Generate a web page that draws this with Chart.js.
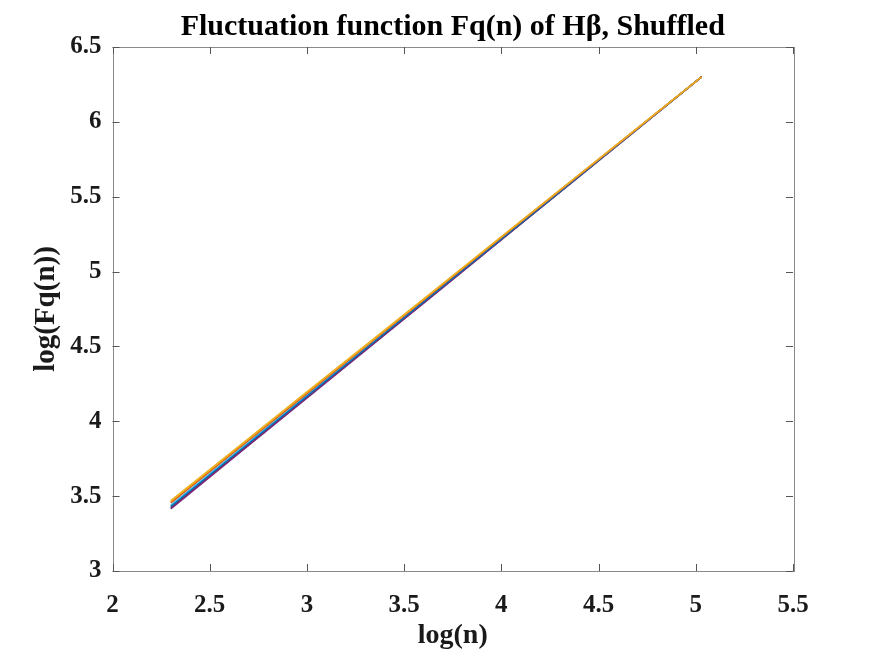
<!DOCTYPE html>
<html>
<head>
<meta charset="utf-8">
<script src="https://cdn.jsdelivr.net/npm/chart.js@4.4.1/dist/chart.umd.min.js"></script>
<style>
  html, body { margin: 0; padding: 0; background: #fff; }
  #wrap { width: 875px; height: 657px; }
</style>
</head>
<body>
<div id="wrap"><canvas id="fqChart" width="875" height="657"></canvas></div>
<script>
// log(n) scale points
var logN = [2.30, 2.64, 2.99, 3.33, 3.68, 4.02, 4.37, 4.71, 5.03];

// log(Fq(n)) per q
var fq1  = [3.420, 3.779, 4.148, 4.506, 4.876, 5.235, 5.604, 5.963, 6.301];
var fq2  = [3.460, 3.814, 4.178, 4.531, 4.895, 5.250, 5.614, 5.968, 6.301];
var fq3  = [3.470, 3.823, 4.186, 4.538, 4.900, 5.253, 5.616, 5.969, 6.301];
var fq4  = [3.415, 3.775, 4.145, 4.503, 4.873, 5.233, 5.603, 5.962, 6.300];
var fq5  = [3.435, 3.792, 4.160, 4.516, 4.883, 5.240, 5.608, 5.965, 6.301];
var fq6  = [3.440, 3.797, 4.163, 4.519, 4.886, 5.242, 5.609, 5.965, 6.301];
var fq7  = [3.425, 3.783, 4.152, 4.510, 4.878, 5.237, 5.605, 5.964, 6.300];
var fq8  = [3.430, 3.788, 4.156, 4.513, 4.881, 5.238, 5.606, 5.964, 6.301];
var fq9  = [3.455, 3.810, 4.174, 4.528, 4.893, 5.248, 5.612, 5.967, 6.301];
var fq10 = [3.465, 3.819, 4.182, 4.534, 4.898, 5.251, 5.615, 5.968, 6.301];

var xTicks = [2, 2.5, 3, 3.5, 4, 4.5, 5, 5.5];
var yTicks = [3, 3.5, 4, 4.5, 5, 5.5, 6, 6.5];

// matlab default colour order
var colores = ['#0072BD', '#D95319', '#EDB120', '#7E2F8E', '#77AC30', '#4DBEEE', '#A2142F'];

var series = [fq1, fq2, fq3, fq4, fq5, fq6, fq7, fq8, fq9, fq10];
var datasets = series.map(function (vals, i) {
    return {
        data: vals.map(function (v, j) { return { x: logN[j], y: v }; }),
        borderColor: colores[i % colores.length],
        borderWidth: 1.5,
        pointRadius: 0,
        fill: false,
        tension: 0,
        order: series.length - i // la ultima serie queda encima, como en matlab
    };
});

var serif = '"Liberation Serif", "Times New Roman", serif';

// caja estilo matlab con ticks hacia adentro
var boxPlugin = {
    id: 'boxPlugin',
    afterDatasetsDraw: function (chart) {
        var ctx = chart.ctx, a = chart.chartArea;
        var xs = chart.scales.x, ys = chart.scales.y;
        ctx.save();
        ctx.strokeStyle = '#8a8a8a';
        ctx.lineWidth = 1;
        ctx.strokeRect(Math.round(a.left) + 0.5, Math.round(a.top) + 0.5,
            Math.round(a.right - a.left), Math.round(a.bottom - a.top));
        ctx.strokeStyle = '#555';
        ctx.beginPath();
        xTicks.forEach(function (t) {
            var px = Math.round(xs.getPixelForValue(t)) + 0.5;
            ctx.moveTo(px, a.bottom); ctx.lineTo(px, a.bottom - 7);
            ctx.moveTo(px, a.top); ctx.lineTo(px, a.top + 7);
        });
        yTicks.forEach(function (t) {
            var py = Math.round(ys.getPixelForValue(t)) + 0.5;
            ctx.moveTo(a.left, py); ctx.lineTo(a.left + 7, py);
            ctx.moveTo(a.right, py); ctx.lineTo(a.right - 7, py);
        });
        ctx.stroke();
        ctx.restore();
    }
};

new Chart(document.getElementById('fqChart').getContext('2d'), {
    type: 'line',
    data: { datasets: datasets },
    plugins: [boxPlugin],
    options: {
        responsive: false,
        animation: false,
        layout: { padding: { left: 0, right: 82, top: 0, bottom: 0 } },
        plugins: {
            legend: { display: false },
            tooltip: { enabled: false },
            title: {
                display: true,
                fullSize: false, // centrado sobre el area del grafico
                text: 'Fluctuation function Fq(n) of H\u03B2, Shuffled',
                color: '#000',
                font: { family: serif, size: 30, weight: 'bold' },
                padding: { top: 9, bottom: 2 }
            }
        },
        scales: {
            x: {
                type: 'linear',
                min: 2, max: 5.5,
                afterBuildTicks: function (s) { s.ticks = xTicks.map(function (v) { return { value: v }; }); },
                afterFit: function (s) { s.height = 86; },
                grid: { display: false },
                border: { display: false },
                ticks: {
                    color: '#1a1a1a',
                    padding: 12,
                    maxRotation: 0,
                    font: { family: serif, size: 25, weight: 'bold' },
                    callback: function (v) { return String(v); }
                },
                title: {
                    display: true,
                    text: 'log(n)',
                    color: '#1a1a1a',
                    font: { family: serif, size: 28, weight: 'bold' },
                    padding: { top: 0, bottom: 4 }
                }
            },
            y: {
                type: 'linear',
                min: 3, max: 6.5,
                afterBuildTicks: function (s) { s.ticks = yTicks.map(function (v) { return { value: v }; }); },
                afterFit: function (s) { s.width = 112.5; },
                grid: { display: false },
                border: { display: false },
                ticks: {
                    color: '#1a1a1a',
                    padding: 3,
                    font: { family: serif, size: 25, weight: 'bold' },
                    callback: function (v) { return String(v); }
                },
                title: {
                    display: true,
                    text: 'log(Fq(n))',
                    color: '#1a1a1a',
                    font: { family: serif, size: 29, weight: 'bold' },
                    padding: { top: 29, bottom: 0 }
                }
            }
        }
    }
});
</script>
</body>
</html>
